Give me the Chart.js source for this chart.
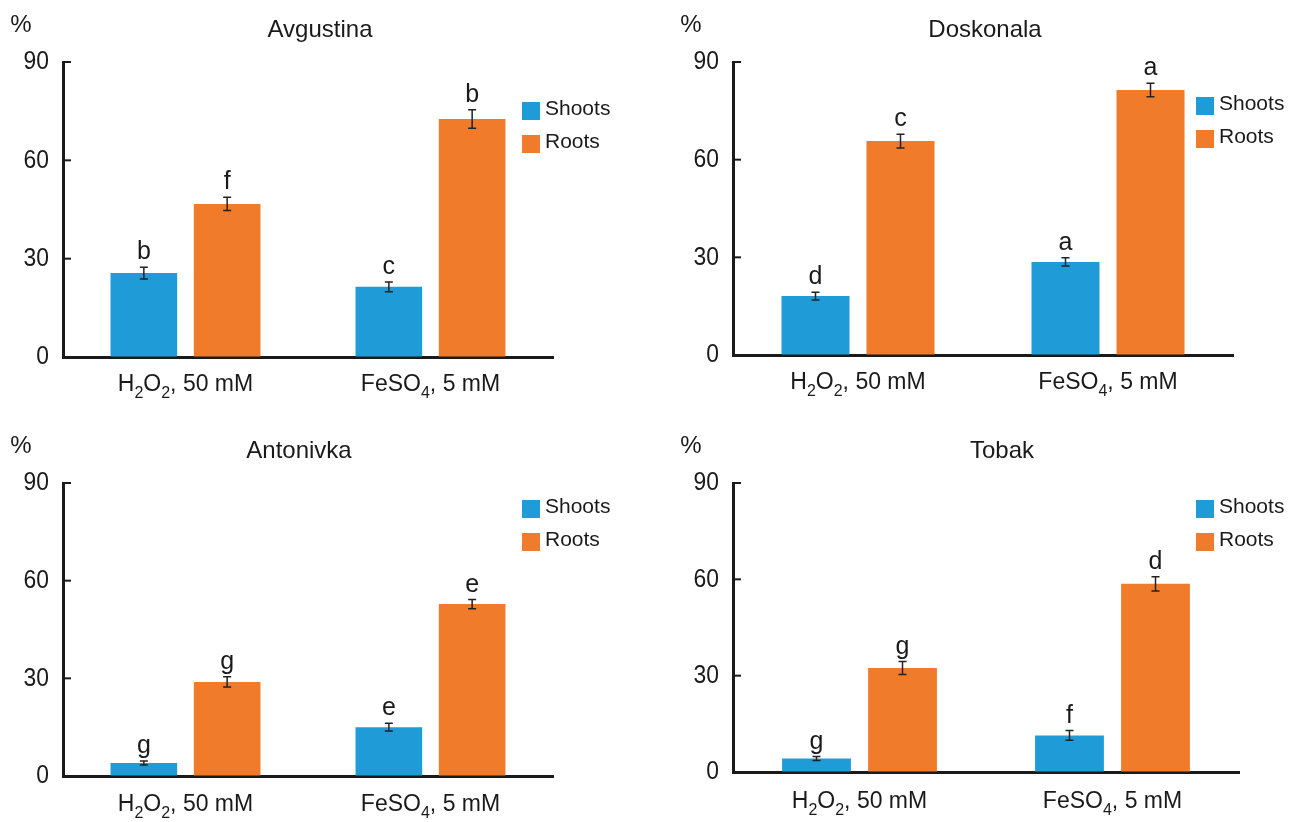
<!DOCTYPE html>
<html>
<head>
<meta charset="utf-8">
<script src="https://cdn.jsdelivr.net/npm/chart.js@4.4.0/dist/chart.umd.min.js"></script>
<style>
  body { margin: 0; background: #fff; width: 1296px; height: 822px; position: relative; overflow: hidden; }
  canvas { position: absolute; }
</style>
</head>
<body>
<canvas id="c0" width="648" height="411" style="left:0;top:0"></canvas>
<canvas id="c1" width="648" height="411" style="left:648px;top:0"></canvas>
<canvas id="c2" width="648" height="411" style="left:0;top:411px"></canvas>
<canvas id="c3" width="648" height="411" style="left:648px;top:411px"></canvas>
<script>
// _ marks a subscript digit
const categories = ['H_2O_2, 50 mM', 'FeSO_4, 5 mM'];
const seriesNames = ['Shoots', 'Roots'];
const cultivars = ['Avgustina', 'Doskonala', 'Antonivka', 'Tobak'];
const yTicks = [0, 30, 60, 90];

// one row per cultivar, one value per treatment
const shootsMean = [[25.6, 21.4], [18.1, 28.6], [4.0, 15.0], [4.2, 11.4]];
const shootsErr  = [[1.8, 1.5], [1.2, 1.3], [0.6, 1.2], [0.6, 1.5]];
const rootsMean  = [[46.7, 72.6], [65.7, 81.4], [28.9, 52.8], [32.4, 58.6]];
const rootsErr   = [[2.0, 2.8], [2.1, 2.1], [1.6, 1.4], [2.0, 2.2]];
const shootsLetters = [['b', 'c'], ['d', 'a'], ['g', 'e'], ['g', 'f']];
const rootsLetters  = [['f', 'b'], ['c', 'a'], ['g', 'e'], ['g', 'd']];

const BLUE = '#1f9bd7';
const ORANGE = '#f07b2a';
const INK = '#1a1a1a';
const FONT = '"Liberation Sans", Arial, sans-serif';

// placement of each panel inside its canvas
const panels = [
  { pad: { left: 13, right: 95, top: 62, bottom: 14 }, titleDx: 12,  legendDx: -31, legendDy: 47, labelDy: 28 },
  { pad: { left: 35, right: 63, top: 62, bottom: 16 }, titleDx: 2,   legendDx: -37, legendDy: 42, labelDy: 28 },
  { pad: { left: 13, right: 95, top: 72, bottom: 6 },  titleDx: -9,  legendDx: -31, legendDy: 24, labelDy: 29 },
  { pad: { left: 35, right: 57, top: 72, bottom: 10 }, titleDx: 16,  legendDx: -43, legendDy: 24, labelDy: 30 }
];

function drawSubText(ctx, str, cx, cy) {
  const parts = [];
  for (let i = 0; i < str.length; i++) {
    if (str[i] === '_') { parts.push({ t: str[i + 1], sub: true }); i++; }
    else parts.push({ t: str[i], sub: false });
  }
  const big = '23px ' + FONT, small = '16px ' + FONT;
  let w = 0;
  parts.forEach(p => { ctx.font = p.sub ? small : big; p.w = ctx.measureText(p.t).width; w += p.w; });
  let x = cx - w / 2;
  ctx.textAlign = 'left';
  ctx.textBaseline = 'middle';
  parts.forEach(p => {
    ctx.font = p.sub ? small : big;
    ctx.fillText(p.t, x, p.sub ? cy + 9 : cy);
    x += p.w;
  });
}

const decorations = {
  id: 'decorations',
  afterDraw(chart) {
    const ctx = chart.ctx, area = chart.chartArea;
    const xs = chart.scales.x, ys = chart.scales.y;
    const p = chart.options.plugins.decorations;
    ctx.save();

    // inward tick marks and condensed tick labels on y axis
    ctx.strokeStyle = INK;
    ctx.fillStyle = INK;
    ctx.lineWidth = 2;
    yTicks.forEach(v => {
      const py = ys.getPixelForValue(v);
      if (v !== 0) {
        ctx.beginPath(); ctx.moveTo(area.left, py); ctx.lineTo(area.left + 8, py); ctx.stroke();
      }
      ctx.save();
      ctx.translate(area.left - 14, py);
      ctx.scale(0.88, 1);
      ctx.font = '26px ' + FONT;
      ctx.textAlign = 'right';
      ctx.textBaseline = 'middle';
      ctx.fillText(String(v), 0, 0);
      ctx.restore();
    });

    // error bars + significance letters
    chart.data.datasets.forEach((ds, i) => {
      chart.getDatasetMeta(i).data.forEach((bar, j) => {
        const top = ys.getPixelForValue(ds.data[j] + ds.errors[j]);
        const bot = ys.getPixelForValue(ds.data[j] - ds.errors[j]);
        ctx.strokeStyle = '#222';
        ctx.lineWidth = 1.5;
        ctx.beginPath();
        ctx.moveTo(bar.x, top); ctx.lineTo(bar.x, bot);
        ctx.moveTo(bar.x - 4, top); ctx.lineTo(bar.x + 4, top);
        ctx.moveTo(bar.x - 4, bot); ctx.lineTo(bar.x + 4, bot);
        ctx.stroke();
        ctx.fillStyle = INK;
        ctx.font = '25px ' + FONT;
        ctx.textAlign = 'center';
        ctx.textBaseline = 'alphabetic';
        ctx.fillText(ds.letters[j], bar.x, top - 8);
      });
    });

    // category labels with subscripts
    ctx.fillStyle = INK;
    chart.data.labels.forEach((lab, j) => {
      drawSubText(ctx, lab, xs.getPixelForValue(j), area.bottom + p.labelDy);
    });

    // title and unit
    ctx.font = '24px ' + FONT;
    ctx.textAlign = 'center';
    ctx.textBaseline = 'middle';
    ctx.fillText(p.title, (area.left + area.right) / 2 + p.titleDx, area.top - 32);
    ctx.fillText('%', area.left - 42, area.top - 37);

    // legend
    const lx = area.right + p.legendDx, ly = area.top + p.legendDy;
    chart.data.datasets.forEach((ds, i) => {
      const cy = ly + i * 33;
      ctx.fillStyle = ds.backgroundColor;
      ctx.fillRect(lx, cy - 7, 18, 18);
      ctx.fillStyle = INK;
      ctx.font = '21px ' + FONT;
      ctx.textAlign = 'left';
      ctx.fillText(ds.label, lx + 23, cy);
    });
    ctx.restore();
  }
};

cultivars.forEach((name, k) => {
  const lay = panels[k];
  new Chart(document.getElementById('c' + k), {
    type: 'bar',
    data: {
      labels: categories,
      datasets: [
        { label: seriesNames[0], data: shootsMean[k], errors: shootsErr[k], letters: shootsLetters[k], backgroundColor: BLUE },
        { label: seriesNames[1], data: rootsMean[k], errors: rootsErr[k], letters: rootsLetters[k], backgroundColor: ORANGE }
      ]
    },
    options: {
      responsive: false,
      animation: false,
      layout: { padding: lay.pad },
      categoryPercentage: 0.68,
      barPercentage: 0.8,
      plugins: {
        legend: { display: false },
        tooltip: { enabled: false },
        decorations: Object.assign({ title: name }, lay)
      },
      scales: {
        x: {
          grid: { drawOnChartArea: false, drawTicks: false },
          border: { color: INK, width: 3 },
          ticks: { display: false },
          afterFit: s => { s.height = 40; }
        },
        y: {
          min: 0, max: 90,
          grid: { drawOnChartArea: false, drawTicks: false },
          border: { color: INK, width: 3 },
          ticks: { display: false },
          afterBuildTicks: s => { s.ticks = yTicks.map(v => ({ value: v })); },
          afterFit: s => { s.width = 50; }
        }
      }
    },
    plugins: [decorations]
  });
});
</script>
</body>
</html>
